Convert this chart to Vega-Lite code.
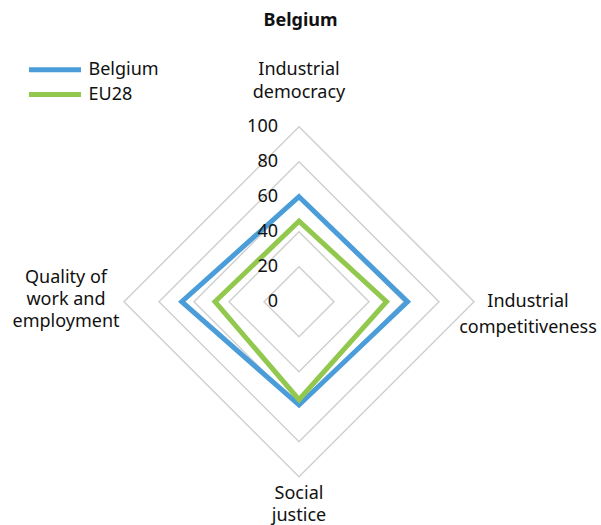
{
  "$schema": "https://vega.github.io/schema/vega-lite/v6.json",
  "width": 601,
  "height": 485,
  "autosize": "none",
  "padding": {"left": 0, "top": 40, "right": 0, "bottom": 0},
  "background": "white",
  "title": {"text": "Belgium", "fontSize": 18, "fontWeight": "bold", "font": "Noto Sans", "color": "#111111", "offset": 10, "anchor": "middle"},
  "config": {"view": {"stroke": null}, "font": "Noto Sans"},
  "datasets": {
    "series": [
      {"series": "Belgium", "axis": "Industrial democracy", "i": 0, "value": 60},
      {"series": "Belgium", "axis": "Industrial competitiveness", "i": 1, "value": 62},
      {"series": "Belgium", "axis": "Social justice", "i": 2, "value": 59},
      {"series": "Belgium", "axis": "Quality of work and employment", "i": 3, "value": 67},
      {"series": "EU28", "axis": "Industrial democracy", "i": 0, "value": 46},
      {"series": "EU28", "axis": "Industrial competitiveness", "i": 1, "value": 50},
      {"series": "EU28", "axis": "Social justice", "i": 2, "value": 56},
      {"series": "EU28", "axis": "Quality of work and employment", "i": 3, "value": 48}
    ],
    "grid": [
      {"level": 20, "i": [0, 1, 2, 3]},
      {"level": 40, "i": [0, 1, 2, 3]},
      {"level": 60, "i": [0, 1, 2, 3]},
      {"level": 80, "i": [0, 1, 2, 3]},
      {"level": 100, "i": [0, 1, 2, 3]}
    ],
    "ticks": [
      {"level": 0}, {"level": 20}, {"level": 40}, {"level": 60}, {"level": 80}, {"level": 100}
    ],
    "axes": [
      {"label": "Industrial\ndemocracy", "i": 0},
      {"label": "Industrial\ncompetitiveness", "i": 1},
      {"label": "Social\njustice", "i": 2},
      {"label": "Quality of\nwork and\nemployment", "i": 3}
    ]
  },
  "layer": [
    {
      "data": {"name": "grid"},
      "transform": [
        {"flatten": ["i"]},
        {"calculate": "datum.level * sin(datum.i * PI / 2)", "as": "gx"},
        {"calculate": "datum.level * cos(datum.i * PI / 2)", "as": "gy"}
      ],
      "mark": {"type": "line", "interpolate": "linear-closed", "stroke": "#d0d0d0", "strokeWidth": 1.5},
      "encoding": {
        "x": {"field": "gx", "type": "quantitative", "scale": {"domain": [-100, 100], "range": [124, 474]}, "axis": null},
        "y": {"field": "gy", "type": "quantitative", "scale": {"domain": [-100, 100], "range": [436.7, 86.7]}, "axis": null},
        "detail": {"field": "level", "type": "nominal"},
        "order": {"field": "i", "type": "quantitative"}
      }
    },
    {
      "data": {"name": "series"},
      "transform": [
        {"calculate": "datum.value * sin(datum.i * PI / 2)", "as": "px"},
        {"calculate": "datum.value * cos(datum.i * PI / 2)", "as": "py"}
      ],
      "mark": {"type": "line", "interpolate": "linear-closed", "strokeWidth": 5, "strokeJoin": "miter"},
      "encoding": {
        "x": {"field": "px", "type": "quantitative", "scale": {"domain": [-100, 100], "range": [124, 474]}, "axis": null},
        "y": {"field": "py", "type": "quantitative", "scale": {"domain": [-100, 100], "range": [436.7, 86.7]}, "axis": null},
        "color": {
          "field": "series", "type": "nominal",
          "scale": {"domain": ["Belgium", "EU28"], "range": ["#4a9dd8", "#92c84e"]},
          "legend": {
            "title": null, "orient": "none", "legendX": 43.5, "legendY": 18.3, "padding": 0,
            "symbolType": "M-3,0H3", "symbolSize": 300, "symbolStrokeWidth": 5,
            "labelFontSize": 18, "labelColor": "#111111", "labelFont": "Noto Sans",
            "labelOffset": 22, "rowPadding": 2.7
          }
        },
        "order": {"field": "i", "type": "quantitative"}
      }
    },
    {
      "data": {"name": "ticks"},
      "mark": {"type": "text", "align": "right", "baseline": "middle", "dx": -21, "fontSize": 18, "color": "#111111"},
      "encoding": {
        "x": {"datum": 0, "type": "quantitative", "scale": {"domain": [-100, 100], "range": [124, 474]}, "axis": null},
        "y": {"field": "level", "type": "quantitative", "scale": {"domain": [-100, 100], "range": [436.7, 86.7]}, "axis": null},
        "text": {"field": "level", "type": "quantitative"}
      }
    },
    {
      "data": {"name": "axes"},
      "transform": [
        {"filter": "datum.i == 0"},
        {"calculate": "100 * sin(datum.i * PI / 2)", "as": "ax"},
        {"calculate": "100 * cos(datum.i * PI / 2)", "as": "ay"}
      ],
      "mark": {"type": "text", "align": "center", "baseline": "middle", "lineBreak": "\n", "lineHeight": 23, "dy": -56.5, "fontSize": 18, "color": "#111111"},
      "encoding": {
        "x": {"field": "ax", "type": "quantitative", "scale": {"domain": [-100, 100], "range": [124, 474]}, "axis": null},
        "y": {"field": "ay", "type": "quantitative", "scale": {"domain": [-100, 100], "range": [436.7, 86.7]}, "axis": null},
        "text": {"field": "label", "type": "nominal"}
      }
    },
    {
      "data": {"name": "axes"},
      "transform": [
        {"filter": "datum.i == 1"},
        {"calculate": "100 * sin(datum.i * PI / 2)", "as": "ax"},
        {"calculate": "100 * cos(datum.i * PI / 2)", "as": "ay"}
      ],
      "mark": {"type": "text", "align": "center", "baseline": "middle", "lineBreak": "\n", "lineHeight": 26, "dx": 54, "dy": 0, "fontSize": 18, "color": "#111111"},
      "encoding": {
        "x": {"field": "ax", "type": "quantitative", "scale": {"domain": [-100, 100], "range": [124, 474]}, "axis": null},
        "y": {"field": "ay", "type": "quantitative", "scale": {"domain": [-100, 100], "range": [436.7, 86.7]}, "axis": null},
        "text": {"field": "label", "type": "nominal"}
      }
    },
    {
      "data": {"name": "axes"},
      "transform": [
        {"filter": "datum.i == 2"},
        {"calculate": "100 * sin(datum.i * PI / 2)", "as": "ax"},
        {"calculate": "100 * cos(datum.i * PI / 2)", "as": "ay"}
      ],
      "mark": {"type": "text", "align": "center", "baseline": "middle", "lineBreak": "\n", "lineHeight": 22, "dy": 17, "fontSize": 18, "color": "#111111"},
      "encoding": {
        "x": {"field": "ax", "type": "quantitative", "scale": {"domain": [-100, 100], "range": [124, 474]}, "axis": null},
        "y": {"field": "ay", "type": "quantitative", "scale": {"domain": [-100, 100], "range": [436.7, 86.7]}, "axis": null},
        "text": {"field": "label", "type": "nominal"}
      }
    },
    {
      "data": {"name": "axes"},
      "transform": [
        {"filter": "datum.i == 3"},
        {"calculate": "100 * sin(datum.i * PI / 2)", "as": "ax"},
        {"calculate": "100 * cos(datum.i * PI / 2)", "as": "ay"}
      ],
      "mark": {"type": "text", "align": "center", "baseline": "middle", "lineBreak": "\n", "lineHeight": 22, "dx": -58, "dy": -24, "fontSize": 18, "color": "#111111"},
      "encoding": {
        "x": {"field": "ax", "type": "quantitative", "scale": {"domain": [-100, 100], "range": [124, 474]}, "axis": null},
        "y": {"field": "ay", "type": "quantitative", "scale": {"domain": [-100, 100], "range": [436.7, 86.7]}, "axis": null},
        "text": {"field": "label", "type": "nominal"}
      }
    }
  ]
}
